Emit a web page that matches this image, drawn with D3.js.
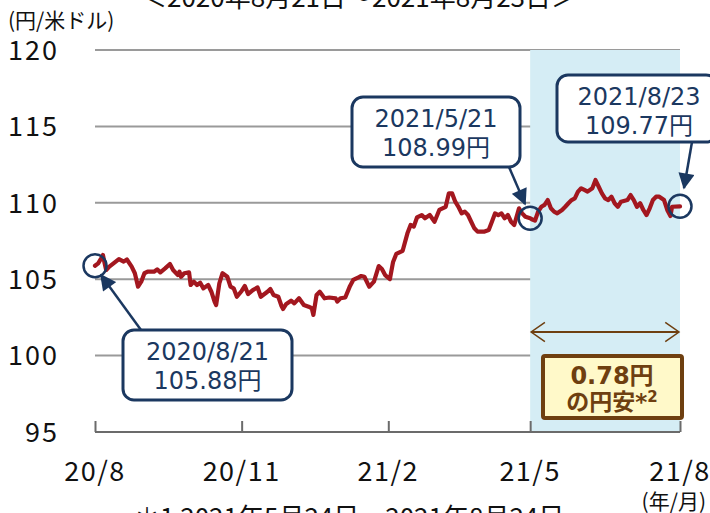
<!DOCTYPE html>
<html>
<head>
<meta charset="utf-8">
<script src="https://cdn.jsdelivr.net/npm/d3@7"></script>
<style>
  body { margin: 0; background: #fff; }
  svg { display: block; }
</style>
</head>
<body>
<svg id="chart" width="710" height="513"></svg>
<script>
// values (円/米ドル)
var dates = [
  "2020-08-21","2020-08-23","2020-08-25","2020-08-26","2020-08-27","2020-08-28","2020-08-30",
  "2020-09-03","2020-09-05","2020-09-08","2020-09-10","2020-09-13","2020-09-15","2020-09-17",
  "2020-09-19","2020-09-21","2020-09-23","2020-09-27","2020-09-29","2020-10-01","2020-10-04",
  "2020-10-07","2020-10-09","2020-10-12","2020-10-13","2020-10-14","2020-10-16","2020-10-19",
  "2020-10-20","2020-10-22","2020-10-24","2020-10-26","2020-10-28","2020-10-31","2020-11-02",
  "2020-11-04","2020-11-05","2020-11-07","2020-11-09","2020-11-12","2020-11-14","2020-11-16",
  "2020-11-18","2020-11-21","2020-11-23","2020-11-25","2020-11-28","2020-12-01","2020-12-03",
  "2020-12-07","2020-12-09","2020-12-11","2020-12-14","2020-12-16","2020-12-17","2020-12-19",
  "2020-12-22","2020-12-24","2020-12-27","2020-12-30","2021-01-02","2021-01-04","2021-01-05",
  "2021-01-07","2021-01-09","2021-01-12","2021-01-15","2021-01-19","2021-01-20","2021-01-22",
  "2021-01-25","2021-01-28","2021-01-30","2021-02-02","2021-02-04","2021-02-06","2021-02-09",
  "2021-02-12","2021-02-15","2021-02-17","2021-02-19","2021-02-22","2021-02-24","2021-02-26",
  "2021-03-02","2021-03-05","2021-03-07","2021-03-09","2021-03-11","2021-03-14","2021-03-16",
  "2021-03-19","2021-03-22","2021-03-25","2021-03-29","2021-03-31","2021-04-02","2021-04-04",
  "2021-04-06","2021-04-08","2021-04-10","2021-04-12","2021-04-14","2021-04-16","2021-04-18",
  "2021-04-22","2021-04-25","2021-04-27","2021-04-29","2021-05-01","2021-05-03","2021-05-05",
  "2021-05-07","2021-05-09","2021-05-11","2021-05-14","2021-05-16","2021-05-18","2021-05-21",
  "2021-05-22","2021-05-24","2021-05-26","2021-05-28","2021-05-30","2021-06-01","2021-06-03",
  "2021-06-05","2021-06-07","2021-06-10","2021-06-12","2021-06-14","2021-06-16","2021-06-18",
  "2021-06-20","2021-06-22","2021-06-24","2021-06-26","2021-06-29","2021-07-01","2021-07-03",
  "2021-07-05","2021-07-07","2021-07-09","2021-07-11","2021-07-13","2021-07-15","2021-07-17",
  "2021-07-21","2021-07-23","2021-07-25","2021-07-27","2021-07-29","2021-07-31","2021-08-02",
  "2021-08-04","2021-08-06","2021-08-08","2021-08-10","2021-08-13","2021-08-15","2021-08-17",
  "2021-08-18","2021-08-23"
];
var rates = [
  105.88,106.04,106.39,106.58,106.06,105.60,105.82,
  106.15,106.32,106.15,106.29,105.82,105.39,104.51,
  104.84,105.39,105.49,105.49,105.64,105.45,105.71,
  106.00,105.60,105.27,105.49,105.16,105.39,105.45,
  104.62,104.84,104.62,104.77,104.40,104.62,104.18,
  103.53,103.31,104.73,105.39,105.16,104.51,104.40,
  103.85,104.23,104.56,104.03,104.29,104.46,103.85,
  104.16,104.36,103.97,103.85,103.25,103.05,103.38,
  103.59,103.42,103.75,103.31,103.20,103.10,102.66,
  103.97,104.18,103.75,103.80,103.75,103.53,103.75,
  103.80,104.56,104.95,105.11,105.21,105.16,104.51,
  104.84,105.86,105.67,105.27,105.01,106.13,106.65,
  106.86,108.00,108.55,108.44,109.04,109.20,108.99,
  109.20,108.76,109.53,109.74,110.62,110.62,110.07,
  109.74,109.31,109.42,109.20,108.76,108.33,108.11,
  108.11,108.22,108.76,109.31,109.20,109.31,108.99,
  109.20,108.76,108.55,109.64,109.31,109.09,108.99,
  108.92,108.83,109.42,109.74,109.86,110.18,109.64,
  109.42,109.31,109.53,109.74,109.97,110.18,110.29,
  110.73,110.95,110.84,110.73,110.95,111.49,111.05,
  110.62,110.29,110.18,110.40,109.97,109.74,110.07,
  110.18,110.51,110.18,109.74,109.97,109.53,109.20,
  109.64,110.18,110.40,110.40,110.18,109.53,109.14,
  109.74,109.77
];
var yTicks = [95, 100, 105, 110, 115, 120];
var xTickDates = ["2020-08-21", "2020-11-21", "2021-02-21", "2021-05-21", "2021-08-23"];
var xTickLabels = ["20/8", "20/11", "21/2", "21/5", "21/8"];
var calloutDates = ["2020-08-21", "2021-05-21", "2021-08-23"];
var calloutRates = [105.88, 108.99, 109.77];
var calloutNames = ["2020/8/21", "2021/5/21", "2021/8/23"];

var parse = d3.timeParse("%Y-%m-%d");
var data = dates.map(function(d, i) { return { date: parse(d), rate: rates[i] }; });

var NAVY = "#1b3860", RED = "#a3171f", BROWN = "#6e3f10";
var jp = "'Noto Sans CJK JP', sans-serif";
var vd = "'DejaVu Sans', 'Noto Sans CJK JP', sans-serif";

var svg = d3.select("#chart");
var x = d3.scaleTime().domain([parse(dates[0]), parse(dates[dates.length - 1])]).range([95, 680]);
var y = d3.scaleLinear().domain([95, 120]).range([432, 50]);

var defs = svg.append("defs");
defs.append("marker").attr("id", "tip").attr("viewBox", "0 0 10 10")
    .attr("refX", 9).attr("refY", 5).attr("markerWidth", 7).attr("markerHeight", 6.5)
    .attr("markerUnits", "strokeWidth").attr("orient", "auto")
    .append("path").attr("d", "M0,0 L10,5 L0,10 z").attr("fill", NAVY);
defs.append("marker").attr("id", "vee").attr("viewBox", "0 0 12 16")
    .attr("refX", 11).attr("refY", 8).attr("markerWidth", 8).attr("markerHeight", 10)
    .attr("markerUnits", "strokeWidth").attr("orient", "auto-start-reverse")
    .append("path").attr("d", "M1,1 L11,8 L1,15").attr("fill", "none")
    .attr("stroke", BROWN).attr("stroke-width", 1.1);

// grid lines
svg.append("g").selectAll("line").data(yTicks.slice(1)).join("line")
    .attr("x1", x.range()[0]).attr("x2", x.range()[1])
    .attr("y1", function(d) { return y(d); }).attr("y2", function(d) { return y(d); })
    .attr("stroke", "#9a9a9a").attr("stroke-width", 2);

// shaded period 21/5 - 21/8
svg.append("rect")
    .attr("x", x(parse("2021-05-21"))).attr("y", y(120))
    .attr("width", x(parse("2021-08-23")) - x(parse("2021-05-21")))
    .attr("height", y(95) - y(120))
    .attr("fill", "#d5edf5");

// y labels
svg.append("g").selectAll("text").data(yTicks).join("text")
    .attr("x", 59).attr("y", function(d) { return y(d); })
    .attr("dy", "0.36em").attr("text-anchor", "end")
    .style("font-family", jp).style("font-size", "27px").style("letter-spacing", "2px")
    .style("fill", "#111")
    .text(function(d) { return d; });

// bottom axis with ticks pointing up
var xAxis = d3.axisBottom(x).tickValues(xTickDates.map(parse)).tickSize(-11).tickFormat("");
var ax = svg.append("g").attr("transform", "translate(0," + y(95) + ")").call(xAxis);
ax.select(".domain").attr("d", "M" + x.range()[0] + ",0H" + x.range()[1])
    .attr("stroke", "#6b6b6b").attr("stroke-width", 2);
ax.selectAll(".tick line").attr("stroke", "#6b6b6b").attr("stroke-width", 2);

svg.append("g").selectAll("text").data(xTickDates).join("text")
    .attr("x", function(d) { return x(parse(d)); }).attr("y", 481)
    .attr("text-anchor", "middle")
    .style("font-family", jp).style("font-size", "27px").style("letter-spacing", "1.5px")
    .style("fill", "#111")
    .text(function(d, i) { return xTickLabels[i]; });

// rate line
svg.append("path").datum(data)
    .attr("d", d3.line().x(function(d) { return x(d.date); }).y(function(d) { return y(d.rate); }))
    .attr("fill", "none").attr("stroke", RED).attr("stroke-width", 4.2)
    .attr("stroke-linejoin", "round").attr("stroke-linecap", "round");

// callout circles
svg.append("g").selectAll("circle").data(calloutDates).join("circle")
    .attr("cx", function(d) { return x(parse(d)); })
    .attr("cy", function(d, i) { return y(calloutRates[i]); })
    .attr("r", 11.5).attr("fill", "none").attr("stroke", NAVY).attr("stroke-width", 2.5);

// callout boxes
var boxes = [
  { x: 123, y: 330, w: 169, h: 70, ax1: 141, ay1: 330, ax2: 101, ay2: 275 },
  { x: 352, y: 97, w: 168, h: 70, ax1: 509, ay1: 167, ax2: 525, ay2: 204 },
  { x: 557, y: 75, w: 160, h: 67, ax1: 692, ay1: 142, ax2: 684, ay2: 188 }
];
boxes.forEach(function(b, i) {
  svg.append("line").attr("x1", b.ax1).attr("y1", b.ay1).attr("x2", b.ax2).attr("y2", b.ay2)
      .attr("stroke", NAVY).attr("stroke-width", 2.5).attr("marker-end", "url(#tip)");
  svg.append("rect").attr("x", b.x).attr("y", b.y).attr("width", b.w).attr("height", b.h)
      .attr("rx", 11).attr("fill", "#fff").attr("stroke", NAVY).attr("stroke-width", 3);
  var cx = i == 2 ? 639 : b.x + b.w / 2;
  var t = svg.append("text").attr("text-anchor", "middle")
      .style("font-family", vd).style("font-size", "24px").style("fill", NAVY);
  t.append("tspan").attr("x", cx).attr("y", b.y + 30).text(calloutNames[i]);
  t.append("tspan").attr("x", cx).attr("y", b.y + 59).text(calloutRates[i].toFixed(2) + "円");
});

// double arrow over shaded period
svg.append("line")
    .attr("x1", x(parse("2021-05-21")) + 1).attr("x2", x(parse("2021-08-23")) - 1)
    .attr("y1", 332).attr("y2", 332)
    .attr("stroke", BROWN).attr("stroke-width", 2.2)
    .attr("marker-start", "url(#vee)").attr("marker-end", "url(#vee)");

svg.append("rect").attr("x", 543).attr("y", 356).attr("width", 139).attr("height", 62)
    .attr("rx", 2).attr("fill", "#fff9c9").attr("stroke", BROWN).attr("stroke-width", 4);
var diff = svg.append("text").attr("text-anchor", "middle")
    .style("font-family", vd).style("font-weight", "bold").style("font-size", "24px").style("fill", BROWN);
diff.append("tspan").attr("x", 612).attr("y", 384).text((calloutRates[2] - calloutRates[1]).toFixed(2) + "円");
var l2 = svg.append("text").attr("x", 612).attr("y", 410).attr("text-anchor", "middle")
    .style("font-family", vd).style("font-weight", "bold").style("font-size", "23px").style("fill", BROWN);
l2.append("tspan").text("の円安*");
l2.append("tspan").attr("dy", -8).style("font-size", "15px").text("2");

// titles and notes (cut at the picture edges as in the source)
svg.append("text").attr("x", 359).attr("y", 7).attr("text-anchor", "middle")
    .style("font-family", jp).style("font-size", "26px").style("fill", "#111")
    .text("＜2020年8月21日～2021年8月23日＞");
svg.append("text").attr("x", 8).attr("y", 28)
    .style("font-family", jp).style("font-size", "21px").style("fill", "#111")
    .text("(円/米ドル)");
svg.append("text").attr("x", 706).attr("y", 509).attr("text-anchor", "end")
    .style("font-family", jp).style("font-size", "21px").style("fill", "#111")
    .text("(年/月)");
svg.append("text").attr("x", 134).attr("y", 527)
    .style("font-family", jp).style("font-size", "26px").style("fill", "#111")
    .text("＊1 2021年5月24日～2021年8月24日");
</script>
</body>
</html>
